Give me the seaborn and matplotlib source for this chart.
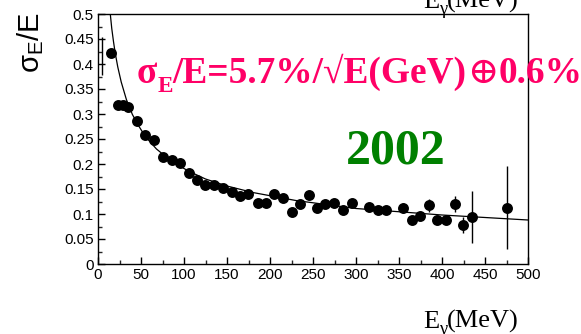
import matplotlib
matplotlib.use("Agg")
import matplotlib.pyplot as plt
import numpy as np
import pandas as pd
import seaborn as sns
from matplotlib.ticker import MultipleLocator
from matplotlib.transforms import IdentityTransform

# ---- data ----
energy = [15, 23.6, 29.4, 35.2, 45.3, 54.7, 65.5, 75.2, 85.6, 95.3, 106.2, 115.5,
          124.4, 134.9, 145.7, 155.4, 165.1, 174.8, 186.4, 195.3, 205, 215.5, 225.2,
          234.9, 245.7, 254.3, 264, 274.4, 285.3, 295, 315.5, 325.2, 334.9, 355,
          364.7, 374.4, 385.2, 394.2, 404.7, 415, 424.8, 435.3, 476]
resolution = [0.423, 0.319, 0.318, 0.315, 0.286, 0.258, 0.248, 0.215, 0.208, 0.203,
              0.183, 0.168, 0.158, 0.159, 0.153, 0.145, 0.136, 0.140, 0.123, 0.123,
              0.140, 0.133, 0.105, 0.120, 0.138, 0.112, 0.121, 0.123, 0.109, 0.123,
              0.115, 0.108, 0.109, 0.113, 0.088, 0.097, 0.118, 0.088, 0.089, 0.120,
              0.079, 0.095, 0.113]
res_err = [0.006, 0.004, 0.004, 0.004, 0.004, 0.004, 0.004, 0.004, 0.004, 0.004,
           0.004, 0.004, 0.004, 0.004, 0.004, 0.004, 0.004, 0.004, 0.004, 0.004,
           0.004, 0.004, 0.004, 0.004, 0.004, 0.004, 0.004, 0.004, 0.004, 0.004,
           0.004, 0.004, 0.004, 0.010, 0.005, 0.005, 0.013, 0.005, 0.005, 0.016,
           0.016, 0.052, 0.083]
# lone error bar near the origin (no visible marker)
lone_energy = [4.7]
lone_res = [0.416]
lone_err = [0.038]

# fit curve
fit_energy = [14, 16, 18, 20, 23, 27, 33, 40, 47, 55, 68, 85, 105, 125, 150, 180,
              230, 300, 400, 500]
fit_res = [0.505, 0.471, 0.445, 0.422, 0.394, 0.364, 0.329, 0.299, 0.277, 0.255,
           0.230, 0.206, 0.186, 0.170, 0.156, 0.143, 0.127, 0.111, 0.098, 0.088]

x_ticks = [0, 50, 100, 150, 200, 250, 300, 350, 400, 450, 500]
x_tick_labels = ["0", "50", "100", "150", "200", "250", "300", "350", "400", "450", "500"]
y_ticks = [0, 0.05, 0.1, 0.15, 0.2, 0.25, 0.3, 0.35, 0.4, 0.45, 0.5]
y_tick_labels = ["0", "0.05", "0.1", "0.15", "0.2", "0.25", "0.3", "0.35", "0.4", "0.45", "0.5"]

# (text, size scale, baseline shift px, weight)
formula_parts = [("σ", 1.0, 0, "bold"), ("E", 0.62, -9, "bold"),
                 ("/E=5.7%/√E(GeV)", 1.0, 0, "bold"), ("⊕", 1.0, 0, "normal"),
                 ("0.6%", 1.0, 0, "bold")]
axis_label_parts = [("E", 1.0, 0, "normal"), ("γ", 0.7, -6, "normal"),
                    ("(MeV)", 1.0, 0, "normal")]
year_text = "2002"

# ---- style ----
sns.set_style("ticks")
plt.rcParams["font.family"] = ["Liberation Sans", "DejaVu Sans"]
plt.rcParams["mathtext.default"] = "regular"

W, H = 581, 334
fig = plt.figure(figsize=(W / 100, H / 100), dpi=100)
ax = fig.add_axes([98 / W, 1 - 264 / H, 430 / W, 250 / H])

df = pd.DataFrame({"E": energy, "res": resolution})
fit_df = pd.DataFrame({"E": fit_energy, "res": fit_res})

sns.lineplot(data=fit_df, x="E", y="res", ax=ax, color="black", lw=0.9,
             sort=False, estimator=None)
ax.errorbar(energy, resolution, yerr=res_err, fmt="none", ecolor="black",
            elinewidth=1.0, capsize=0, zorder=2)
ax.errorbar(lone_energy, lone_res, yerr=lone_err, fmt="none", ecolor="black",
            elinewidth=1.0, capsize=0, zorder=2)
sns.scatterplot(data=df, x="E", y="res", ax=ax, color="black", s=62,
                edgecolor="black", linewidth=0, zorder=3)

ax.set_xlim(0, 500)
ax.set_ylim(0, 0.5)
ax.set_xticks(x_ticks, x_tick_labels)
ax.set_yticks(y_ticks, y_tick_labels)
ax.xaxis.set_minor_locator(MultipleLocator(25))
ax.yaxis.set_minor_locator(MultipleLocator(0.025))
ax.tick_params(which="major", direction="in", length=5, width=1.0, labelsize=11,
               pad=3, color="black", labelcolor="black")
ax.tick_params(which="minor", direction="in", length=3, width=1.0)
ax.set_xlabel("")
ax.set_ylabel("")
for sp in ax.spines.values():
    sp.set_visible(True)
    sp.set_color("black")
    sp.set_linewidth(1.0)

# y label
fig.text(30.5 / W, 1 - 12 / H, r"$\sigma_{E}$/E", rotation=90, ha="center", va="top",
         fontsize=21, color="black", family=["Liberation Sans", "DejaVu Sans"])

fig.canvas.draw()
renderer = fig.canvas.get_renderer()


def run_text(parts, x0, y0, size, color, family):
    x = x0
    for s, scale, dy, weight in parts:
        t = fig.text(x, y0 + dy, s, transform=IdentityTransform(), fontsize=size * scale,
                     color=color, weight=weight, family=family, ha="left",
                     va="baseline", clip_on=False)
        bb = t.get_window_extent(renderer)
        x = bb.x1


serif = ["Liberation Serif", "DejaVu Serif", "DejaVu Sans"]
run_text(formula_parts, 137, H - 83, 26.9, "#FF0066", serif)
run_text(axis_label_parts, 423, 6, 19, "black", serif)
run_text(axis_label_parts, 423, H - 8, 19, "black", serif)

ax.text(346.5, 0.202, year_text, ha="center", va="baseline", fontsize=36,
        color="#008000", weight="bold", family=serif)

fig.savefig("out.png", dpi=100)
